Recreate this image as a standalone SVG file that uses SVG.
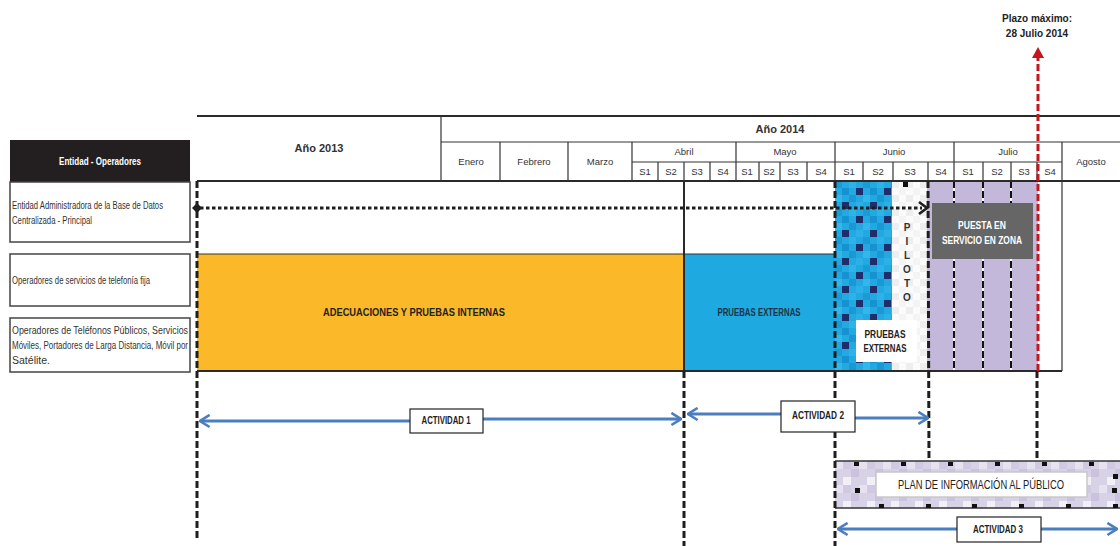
<svg xmlns="http://www.w3.org/2000/svg" width="1120" height="546" viewBox="0 0 1120 546">
<defs>
<style>
.t{font-family:"Liberation Sans",Arial,sans-serif;fill:#333;}
.m{font-size:9.5px;text-anchor:middle;}
.b{font-weight:bold;}
.grid{stroke:#333;stroke-width:1.2;fill:none;}
.thick{stroke:#2a2a2a;stroke-width:2;fill:none;}
.vdash{stroke:#1e1e1e;stroke-width:3;stroke-dasharray:7 3;fill:none;}
.blue{stroke:#4A7EBF;stroke-width:3;fill:none;}
.lbl{fill:#fff;stroke:#222;stroke-width:1.2;}
.lt{font-family:"Liberation Sans",Arial,sans-serif;font-size:10px;font-weight:bold;fill:#222;text-anchor:middle;}
.lbox{fill:#fff;stroke:#444;stroke-width:1.5;}
.r{font-size:10px;}
</style>
<marker id="chev" viewBox="0 0 10 12" markerWidth="4" markerHeight="5" refX="9" refY="6" orient="auto-start-reverse" markerUnits="strokeWidth">
<path d="M1,1 L9,6 L1,11" fill="none" stroke="#4A7EBF" stroke-width="2.2"/>
</marker>
<pattern id="blueMos" width="28" height="28" patternUnits="userSpaceOnUse" x="835" y="181">
<rect width="28" height="28" fill="#22A9E1"/>
<rect x="0" y="0" width="7" height="7" fill="#1B9BD6"/>
<rect x="14" y="0" width="7" height="7" fill="#2EB3E8"/>
<rect x="7" y="7" width="7" height="7" fill="#1592CF"/>
<rect x="21" y="7" width="7" height="7" fill="#1F2D6B"/>
<rect x="0" y="14" width="7" height="7" fill="#33B6EA"/>
<rect x="14" y="14" width="7" height="7" fill="#1A98D3"/>
<rect x="7" y="21" width="7" height="7" fill="#1F2D6B"/>
<rect x="21" y="21" width="7" height="7" fill="#2CB0E6"/>
</pattern>
<pattern id="whiteMos" width="14" height="14" patternUnits="userSpaceOnUse" x="892" y="181">
<rect width="14" height="14" fill="#fbfbfb"/>
<rect x="0" y="0" width="7" height="7" fill="#eeeeee"/>
<rect x="7" y="7" width="7" height="7" fill="#f4f4f4"/>
</pattern>
<pattern id="lavMos" width="24" height="24" patternUnits="userSpaceOnUse" x="835" y="461">
<rect width="24" height="24" fill="#D8D2E6"/>
<rect x="0" y="0" width="8" height="8" fill="#E6E2EF"/>
<rect x="16" y="8" width="8" height="8" fill="#CBC3DD"/>
<rect x="8" y="16" width="8" height="8" fill="#F2F0F7"/>
<rect x="8" y="0" width="8" height="8" fill="#D0C9E1"/>
</pattern>
</defs>

<rect width="1120" height="546" fill="#fff"/>

<!-- left column -->
<g id="entidad-header">
<rect x="10" y="140" width="180" height="42" fill="#231F20"/>
<text class="t b" x="100" y="165" style="font-size:11px;fill:#fff;text-anchor:middle" textLength="82" lengthAdjust="spacingAndGlyphs">Entidad - Operadores</text>
</g>
<g id="row-entidad">
<rect class="lbox" x="10" y="182" width="180" height="60"/>
<text class="t r" x="12" y="209" textLength="151" lengthAdjust="spacingAndGlyphs">Entidad Administradora de la Base de Datos</text>
<text class="t r" x="12" y="224" textLength="80" lengthAdjust="spacingAndGlyphs">Centralizada - Principal</text>
</g>
<g id="row-fija">
<rect class="lbox" x="10" y="254" width="180" height="52"/>
<text class="t r" x="12" y="284" textLength="138" lengthAdjust="spacingAndGlyphs">Operadores de servicios de telefonía fija</text>
</g>
<g id="row-moviles">
<rect class="lbox" x="10" y="318" width="180" height="54"/>
<text class="t r" x="12" y="334" textLength="176" lengthAdjust="spacingAndGlyphs">Operadores de Teléfonos Públicos, Servicios</text>
<text class="t r" x="12" y="349" textLength="176" lengthAdjust="spacingAndGlyphs">Móviles, Portadores de Larga Distancia, Móvil por</text>
<text class="t r" x="12" y="364" textLength="38" lengthAdjust="spacingAndGlyphs">Satélite.</text>
</g>

<!-- chart fills -->
<g id="adecuaciones">
<rect x="197" y="254" width="487" height="117" fill="#FBB829"/>
<text class="t b" x="414" y="316" style="font-size:11px;fill:#222;text-anchor:middle" textLength="182" lengthAdjust="spacingAndGlyphs">ADECUACIONES Y PRUEBAS INTERNAS</text>
</g>
<g id="pruebas-externas">
<rect x="684" y="254" width="151" height="117" fill="#1FA9E1"/>
<text class="t b" x="759" y="316" style="font-size:11px;fill:#1d3345;text-anchor:middle" textLength="83" lengthAdjust="spacingAndGlyphs">PRUEBAS EXTERNAS</text>
</g>
<g id="pruebas-mosaic">
<rect x="835" y="181" width="57" height="190" fill="url(#blueMos)"/>
</g>
<g id="piloto">
<rect x="892" y="181" width="35" height="190" fill="url(#whiteMos)"/>
<rect x="903" y="182" width="5" height="5" fill="#111"/>
<g class="t b" style="font-size:10px;text-anchor:middle;fill:#333">
<text x="907" y="231">P</text>
<text x="907" y="245">I</text>
<text x="907" y="259">L</text>
<text x="907" y="273">O</text>
<text x="907" y="287">T</text>
<text x="907" y="301">O</text>
</g>
<rect x="856" y="320" width="61" height="42" fill="#fff"/>
<text class="t b" x="885" y="338" style="font-size:10.5px;fill:#222;text-anchor:middle" textLength="41" lengthAdjust="spacingAndGlyphs">PRUEBAS</text>
<text class="t b" x="885" y="352" style="font-size:10.5px;fill:#222;text-anchor:middle" textLength="43" lengthAdjust="spacingAndGlyphs">EXTERNAS</text>
</g>
<g id="puesta-servicio">
<rect x="927" y="181" width="111" height="190" fill="#C3B8D9"/>
<g style="stroke:#fff;stroke-width:2">
<line x1="954" y1="181" x2="954" y2="371"/>
<line x1="983" y1="181" x2="983" y2="371"/>
<line x1="1011" y1="181" x2="1011" y2="371"/>
</g>
<g style="stroke:#111;stroke-width:2;stroke-dasharray:7 3">
<line x1="954" y1="181" x2="954" y2="371"/>
<line x1="983" y1="181" x2="983" y2="371"/>
<line x1="1011" y1="181" x2="1011" y2="371"/>
</g>
<rect x="932" y="203" width="101" height="56" fill="#666666"/>
<text class="t b" x="982" y="229" style="font-size:11px;fill:#fff;text-anchor:middle" textLength="48" lengthAdjust="spacingAndGlyphs">PUESTA EN</text>
<text class="t b" x="982" y="244" style="font-size:11px;fill:#fff;text-anchor:middle" textLength="80" lengthAdjust="spacingAndGlyphs">SERVICIO EN ZONA</text>
</g>

<!-- header grid -->
<g id="header">
<line class="thick" x1="197" y1="116" x2="1120" y2="116"/>
<line class="thick" x1="197" y1="181" x2="1120" y2="181"/>
<line class="grid" x1="441" y1="142" x2="1120" y2="142"/>
<line class="grid" x1="632" y1="162" x2="1062" y2="162"/>
<line class="grid" x1="441" y1="116" x2="441" y2="181"/>
<line class="grid" x1="500" y1="142" x2="500" y2="181"/>
<line class="grid" x1="568" y1="142" x2="568" y2="181"/>
<line class="grid" x1="632" y1="142" x2="632" y2="181"/>
<line class="grid" x1="736" y1="142" x2="736" y2="181"/>
<line class="grid" x1="835" y1="142" x2="835" y2="181"/>
<line class="grid" x1="954" y1="142" x2="954" y2="181"/>
<line class="grid" x1="1062" y1="142" x2="1062" y2="181"/>
<g class="grid">
<line x1="658" y1="162" x2="658" y2="181"/>
<line x1="684" y1="162" x2="684" y2="181"/>
<line x1="710" y1="162" x2="710" y2="181"/>
<line x1="759" y1="162" x2="759" y2="181"/>
<line x1="780" y1="162" x2="780" y2="181"/>
<line x1="807" y1="162" x2="807" y2="181"/>
<line x1="863" y1="162" x2="863" y2="181"/>
<line x1="893" y1="162" x2="893" y2="181"/>
<line x1="928" y1="162" x2="928" y2="181"/>
<line x1="983" y1="162" x2="983" y2="181"/>
<line x1="1011" y1="162" x2="1011" y2="181"/>
<line x1="1037" y1="162" x2="1037" y2="181"/>
</g>
<text class="t b" x="319" y="152" style="font-size:11px;text-anchor:middle">Año 2013</text>
<text class="t b" x="780" y="133" style="font-size:11px;text-anchor:middle">Año 2014</text>
<text class="t m" x="471" y="165">Enero</text>
<text class="t m" x="534" y="165">Febrero</text>
<text class="t m" x="600" y="165">Marzo</text>
<text class="t m" x="1091" y="165">Agosto</text>
<text class="t m" x="684" y="155">Abril</text>
<text class="t m" x="785" y="155">Mayo</text>
<text class="t m" x="894" y="155">Junio</text>
<text class="t m" x="1008" y="155">Julio</text>
<g class="t m">
<text x="645" y="175">S1</text><text x="671" y="175">S2</text><text x="697" y="175">S3</text><text x="723" y="175">S4</text>
<text x="747" y="175">S1</text><text x="769" y="175">S2</text><text x="793" y="175">S3</text><text x="821" y="175">S4</text>
<text x="849" y="175">S1</text><text x="878" y="175">S2</text><text x="910" y="175">S3</text><text x="941" y="175">S4</text>
<text x="968" y="175">S1</text><text x="997" y="175">S2</text><text x="1024" y="175">S3</text><text x="1050" y="175">S4</text>
</g>
</g>

<!-- chart grid -->
<g id="chart-grid">
<line class="grid" x1="197" y1="254" x2="835" y2="254"/>
<line class="thick" x1="197" y1="371" x2="1062" y2="371"/>
<line class="grid" x1="1062" y1="181" x2="1062" y2="371"/>
<line class="thick" x1="684" y1="181" x2="684" y2="371"/>
</g>

<!-- plan informacion -->
<g id="plan-informacion">
<rect x="835" y="461" width="285" height="47" fill="url(#lavMos)"/>
<line x1="835" y1="461" x2="1120" y2="461" stroke="#333" stroke-width="1.5"/>
<line x1="835" y1="508" x2="1120" y2="508" stroke="#333" stroke-width="1.5"/>
<g fill="#111">
<rect x="854" y="462" width="5" height="4"/><rect x="901" y="462" width="5" height="4"/><rect x="948" y="462" width="5" height="4"/><rect x="995" y="462" width="5" height="4"/><rect x="1042" y="462" width="5" height="4"/><rect x="1089" y="462" width="5" height="4"/>
<rect x="879" y="504" width="5" height="4"/><rect x="926" y="504" width="5" height="4"/><rect x="972" y="504" width="5" height="4"/><rect x="1019" y="504" width="5" height="4"/><rect x="1066" y="504" width="5" height="4"/><rect x="1113" y="504" width="5" height="4"/>
<rect x="855" y="488" width="5" height="5"/><rect x="1112" y="488" width="5" height="5"/><rect x="1113" y="474" width="5" height="5"/>
</g>
<rect x="876" y="472" width="211" height="25" fill="#fff" stroke="#c8c8c8" stroke-width="1.5"/>
<text class="t" x="981" y="489" style="font-size:13px;fill:#222;text-anchor:middle" textLength="166" lengthAdjust="spacingAndGlyphs">PLAN DE INFORMACIÓN AL PÚBLICO</text>
</g>

<!-- connectors -->
<g id="connectors">
<line class="vdash" x1="197" y1="181" x2="197" y2="538"/>
<line class="vdash" x1="684" y1="371" x2="684" y2="546"/>
<line class="vdash" x1="835" y1="181" x2="835" y2="546"/>
<line class="vdash" x1="928" y1="181" x2="929" y2="461"/>
<line class="vdash" x1="1037" y1="371" x2="1037" y2="461"/>
<path d="M197,203 L202,208 L197,213 L192,208 Z" fill="#1e1e1e"/>
<line x1="200" y1="208" x2="922" y2="208" stroke="#1e1e1e" stroke-width="3.2" stroke-dasharray="3.5 2.5"/>
<path d="M919,202 L927,208 L919,214" fill="none" stroke="#1e1e1e" stroke-width="2.6"/>
<line x1="1038" y1="371" x2="1038" y2="56" stroke="#C4161C" stroke-width="3" stroke-dasharray="7 3"/>
<path d="M1032,58 L1038,47 L1044,58 Z" fill="#C4161C"/>
<line class="blue" x1="200" y1="421" x2="410" y2="421" marker-start="url(#chev)"/>
<line class="blue" x1="483" y1="419" x2="681" y2="419" marker-end="url(#chev)"/>
<line class="blue" x1="688" y1="414" x2="781" y2="414" marker-start="url(#chev)"/>
<line class="blue" x1="855" y1="418" x2="928" y2="418" marker-end="url(#chev)"/>
<line class="blue" x1="838" y1="529" x2="957" y2="529" marker-start="url(#chev)"/>
<line class="blue" x1="1041" y1="529" x2="1117" y2="529" marker-end="url(#chev)"/>
</g>

<g id="plazo">
<text class="t b" x="1037" y="22" style="font-size:10px;text-anchor:middle;fill:#222">Plazo máximo:</text>
<text class="t b" x="1037" y="37" style="font-size:10px;text-anchor:middle;fill:#222">28 Julio 2014</text>
</g>

<g id="actividad-1">
<rect class="lbl" x="410" y="409" width="73" height="24"/>
<text class="lt" x="446" y="424" textLength="49" lengthAdjust="spacingAndGlyphs">ACTIVIDAD 1</text>
</g>
<g id="actividad-2">
<rect class="lbl" x="781" y="401" width="74" height="31"/>
<text class="lt" x="818" y="419" textLength="52" lengthAdjust="spacingAndGlyphs">ACTIVIDAD 2</text>
</g>
<g id="actividad-3">
<rect class="lbl" x="957" y="517" width="84" height="25"/>
<text class="lt" x="998" y="533" textLength="50" lengthAdjust="spacingAndGlyphs">ACTIVIDAD 3</text>
</g>
</svg>
